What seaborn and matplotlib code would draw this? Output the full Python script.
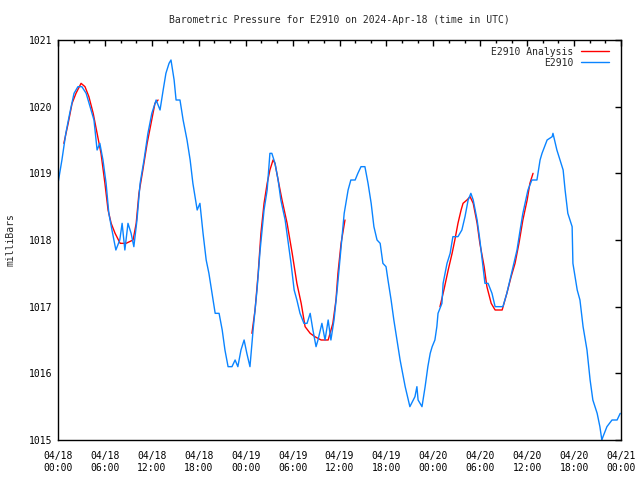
"""
Barometric pressure chart for station E2910, 2024-Apr-18 .. Apr-21 (UTC).
Observed series in blue, analysis segments in red, gnuplot-like styling.
"""

import numpy as np
import pandas as pd
import matplotlib
matplotlib.use("Agg")
import matplotlib.pyplot as plt
import matplotlib.dates as mdates
import seaborn as sns

# ─────────────────────────────────────────────
# Data (hours since 2024-04-18 00:00 UTC, millibars)
# ─────────────────────────────────────────────

obs_hours = [
    0.0, 0.5, 1.0, 1.5, 2.05, 2.55, 3.05, 3.6, 4.1, 4.6, 5.0, 5.35, 5.75,
    6.15, 6.5, 6.9, 7.4, 7.9, 8.2, 8.55, 8.95, 9.35, 9.7, 10.1, 10.5, 11.0,
    11.5, 12.0, 12.55, 13.05, 13.45, 13.8, 14.2, 14.45, 14.85, 15.1, 15.6,
    16.0, 16.5, 16.9, 17.25, 17.8, 18.15, 18.55, 18.95, 19.3, 19.7, 20.1,
    20.6, 21.0, 21.35, 21.75, 22.25, 22.65, 23.0, 23.4, 23.8, 24.15, 24.55,
    24.95, 25.45, 25.85, 26.35, 26.75, 27.1, 27.35, 27.75, 28.15, 28.5,
    29.05, 29.4, 29.8, 30.2, 30.55, 30.95, 31.45, 31.85, 32.25, 32.6, 33.0,
    33.25, 33.75, 34.15, 34.55, 34.9, 35.3, 35.7, 36.05, 36.6, 37.1, 37.45,
    38.0, 38.35, 38.75, 39.25, 39.65, 40.05, 40.4, 40.8, 41.2, 41.55, 41.95,
    42.2, 42.6, 42.95, 43.35, 43.75, 44.4, 45.0, 45.65, 45.9, 46.05, 46.55,
    46.95, 47.3, 47.6, 47.85, 48.2, 48.45, 48.6, 49.1, 49.25, 49.75, 50.15,
    50.5, 51.15, 51.65, 52.05, 52.45, 52.8, 53.1, 53.6, 53.95, 54.25, 54.6,
    55.0, 55.5, 55.9, 56.9, 57.4, 57.8, 58.2, 58.7, 59.1, 59.45, 60.1, 60.6,
    61.25, 61.65, 61.9, 62.55, 63.2, 63.3, 63.8, 64.2, 64.6, 64.85, 65.2,
    65.75, 65.85, 66.4, 66.75, 67.15, 67.65, 68.05, 68.4, 68.95, 69.3,
    69.55, 69.7, 70.2, 70.85, 71.5, 71.9,
]
obs_mb = [
    1018.85, 1019.2, 1019.6, 1019.9, 1020.2, 1020.3, 1020.3, 1020.2, 1020.0,
    1019.8, 1019.35, 1019.45, 1019.2, 1018.85, 1018.4, 1018.15, 1017.85,
    1018.0, 1018.25, 1017.85, 1018.25, 1018.1, 1017.9, 1018.3, 1018.85,
    1019.2, 1019.6, 1019.9, 1020.1, 1019.95, 1020.25, 1020.5, 1020.65,
    1020.7, 1020.4, 1020.1, 1020.1, 1019.8, 1019.5, 1019.2, 1018.85,
    1018.45, 1018.55, 1018.1, 1017.7, 1017.5, 1017.2, 1016.9, 1016.9,
    1016.65, 1016.35, 1016.1, 1016.1, 1016.2, 1016.1, 1016.35, 1016.5,
    1016.3, 1016.1, 1016.65, 1017.25, 1017.85, 1018.45, 1018.75, 1019.3,
    1019.3, 1019.15, 1018.9, 1018.6, 1018.3, 1018.0, 1017.65, 1017.25,
    1017.1, 1016.9, 1016.75, 1016.75, 1016.9, 1016.65, 1016.4, 1016.5,
    1016.75, 1016.5, 1016.8, 1016.5, 1016.8, 1017.25, 1017.7, 1018.4,
    1018.75, 1018.9, 1018.9, 1019.0, 1019.1, 1019.1, 1018.85, 1018.55,
    1018.2, 1018.0, 1017.95, 1017.65, 1017.6, 1017.4, 1017.1, 1016.8,
    1016.5, 1016.2, 1015.8, 1015.5, 1015.65, 1015.8, 1015.6, 1015.5,
    1015.8, 1016.1, 1016.3, 1016.4, 1016.5, 1016.7, 1016.9, 1017.05,
    1017.35, 1017.65, 1017.8, 1018.05, 1018.05, 1018.15, 1018.35, 1018.6,
    1018.7, 1018.6, 1018.3, 1018.0, 1017.7, 1017.35, 1017.35, 1017.2,
    1017.0, 1017.0, 1017.2, 1017.4, 1017.6, 1017.85, 1018.15, 1018.4,
    1018.75, 1018.9, 1018.9, 1019.2, 1019.3, 1019.5, 1019.55, 1019.6,
    1019.35, 1019.2, 1019.05, 1018.75, 1018.4, 1018.2, 1017.65, 1017.25,
    1017.1, 1016.7, 1016.35, 1015.9, 1015.6, 1015.4, 1015.2, 1015.0,
    1015.05, 1015.2, 1015.3, 1015.3, 1015.4,
]

# analysis: three separate runs
ana_seg = [1] * 24 + [2] * 25 + [3] * 26
ana_hours = [
    0.75, 1.3, 1.8, 2.3, 2.95, 3.45, 3.95, 4.5, 5.0, 5.5, 6.0, 6.4, 6.8,
    7.3, 7.95, 8.7, 9.6, 10.0, 10.35, 10.85, 11.4, 11.9, 12.4, 12.8,
    24.8, 25.2, 25.6, 25.95, 26.35, 26.75, 27.1, 27.5, 27.75, 28.15, 28.65,
    29.3, 29.95, 30.55, 31.1, 31.6, 32.25, 32.85, 33.65, 34.55, 35.15,
    35.55, 35.8, 36.2, 36.7,
    48.85, 49.35, 49.9, 50.4, 50.75, 51.15, 51.55, 51.8, 52.3, 52.7, 53.1,
    53.6, 53.95, 54.5, 54.85, 55.4, 55.9, 56.8, 57.4, 57.95, 58.45, 58.95,
    59.45, 60.0, 60.35, 60.75,
]
ana_mb = [
    1019.45, 1019.75, 1020.05, 1020.2, 1020.35, 1020.3, 1020.15, 1019.9,
    1019.6, 1019.3, 1018.85, 1018.45, 1018.25, 1018.1, 1017.95, 1017.95,
    1018.0, 1018.25, 1018.7, 1019.05, 1019.45, 1019.75, 1020.05, 1020.1,
    1016.6, 1016.95, 1017.5, 1018.1, 1018.55, 1018.85, 1019.05, 1019.2,
    1019.15, 1018.9, 1018.6, 1018.25, 1017.8, 1017.35, 1017.05, 1016.7,
    1016.6, 1016.55, 1016.5, 1016.5, 1016.75, 1017.1, 1017.5, 1017.95,
    1018.3,
    1017.0, 1017.25, 1017.55, 1017.8, 1018.0, 1018.25, 1018.45, 1018.55,
    1018.6, 1018.65, 1018.55, 1018.25, 1017.95, 1017.6, 1017.3, 1017.05,
    1016.95, 1016.95, 1017.2, 1017.45, 1017.65, 1017.95, 1018.3, 1018.6,
    1018.85, 1019.0,
]

START = pd.Timestamp("2024-04-18 00:00")
RED = "#ff0000"
BLUE = "#0a84ff"
MONO = "DejaVu Sans Mono"


def to_frame(hours, values, **extra):
    df = pd.DataFrame({"hours": hours, "mb": values, **extra})
    df["time"] = START + pd.to_timedelta(df["hours"], unit="h")
    return df


# ─────────────────────────────────────────────
# Plot
# ─────────────────────────────────────────────

sns.set_style("white")
plt.rcParams["font.family"] = [MONO]

obs = to_frame(obs_hours, obs_mb)
ana = to_frame(ana_hours, ana_mb, seg=ana_seg)

fig = plt.figure(figsize=(6.4, 4.8), dpi=100)
ax = fig.add_axes([58 / 640, 40 / 480, 563 / 640, 400 / 480])

sns.lineplot(data=ana, x="time", y="mb", units="seg", estimator=None,
             color=RED, lw=1.0, ax=ax, sort=False)
sns.lineplot(data=obs, x="time", y="mb", color=BLUE, lw=1.0, ax=ax)

ax.set_xlim(START, START + pd.Timedelta(hours=72))
ax.set_ylim(1015, 1021)
ax.set_yticks(range(1015, 1022))

ax.xaxis.set_major_locator(mdates.HourLocator(byhour=[0, 6, 12, 18]))
ax.xaxis.set_major_formatter(mdates.DateFormatter("%m/%d\n%H:%M"))
ax.xaxis.set_minor_locator(mdates.HourLocator(interval=2))

ax.tick_params(which="both", direction="in", top=True, right=True,
               labelsize=7, colors="black", width=1)
ax.tick_params(which="major", length=4.5, pad=8)
ax.tick_params(which="minor", length=2.5)
ax.tick_params(axis="y", pad=4)

for s in ax.spines.values():
    s.set_color("black")
    s.set_linewidth(1)

ax.set_xlabel("")
ax.set_ylabel("milliBars", fontsize=7, labelpad=10)
ax.set_title("Barometric Pressure for E2910 on 2024-Apr-18 (time in UTC)",
             fontsize=7, pad=12)

handles = [plt.Line2D([], [], color=RED, lw=1.0),
           plt.Line2D([], [], color=BLUE, lw=1.0)]
ax.legend(handles, ["E2910 Analysis", "E2910"], loc="upper right",
          bbox_to_anchor=(1 - 6 / 563, 1 - 1 / 400),
          frameon=False, markerfirst=False, fontsize=7, handlelength=2.9,
          borderaxespad=0.2, labelspacing=0.1)

plt.savefig("out.png", dpi=100)
plt.close()
